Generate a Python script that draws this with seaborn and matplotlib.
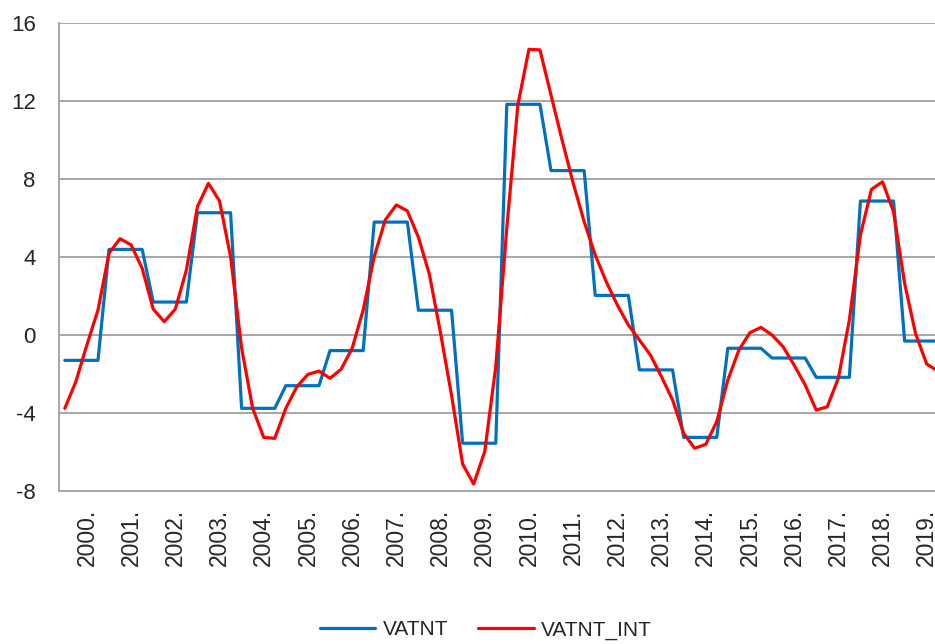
import numpy as np
import pandas as pd
import matplotlib.pyplot as plt
import seaborn as sns

# annual values (repeated over the four quarters) and the quarterly interpolation
years = [f"{y}." for y in range(2000, 2020)]
vatnt_annual = [-1.3, 4.39, 1.69, 6.27, -3.76, -2.6, -0.8, 5.79, 1.27, -5.55,
                11.83, 8.43, 2.03, -1.79, -5.25, -0.68, -1.18, -2.17, 6.87, -0.31]
vatnt_int = [-3.76, -2.39, -0.5, 1.28,
             4.2, 4.94, 4.62, 3.42,
             1.33, 0.68, 1.33, 3.33,
             6.58, 7.78, 6.87, 4.02,
             -0.68, -3.76, -5.25, -5.3,
             -3.76, -2.65, -2.02, -1.85,
             -2.22, -1.76, -0.68, 1.28,
             4.02, 5.9, 6.67, 6.36,
             5.01, 3.1, 0.1, -3.1,
             -6.62, -7.64, -5.98, -1.62,
             5.5, 11.8, 14.65, 14.62,
             12.3, 10.0, 7.8, 5.81,
             4.1, 2.73, 1.54, 0.51,
             -0.26, -1.03, -2.14, -3.33,
             -5.04, -5.81, -5.61, -4.44,
             -2.31, -0.77, 0.12, 0.39,
             0.0, -0.6, -1.54, -2.56,
             -3.85, -3.68, -2.22, 0.77,
             5.13, 7.47, 7.86, 6.32,
             2.65, 0.05, -1.49, -1.85]

quarters = np.arange(len(vatnt_int))
vatnt = np.repeat(vatnt_annual, 4)

df = pd.DataFrame({
    "q": np.concatenate([quarters, quarters]),
    "value": np.concatenate([vatnt, vatnt_int]),
    "series": ["VATNT"] * len(quarters) + ["VATNT_INT"] * len(quarters),
})

sns.set_style("white")
plt.rcParams['font.family'] = ['Liberation Sans', 'DejaVu Sans']
plt.rcParams['axes.unicode_minus'] = False

grey = '#a6a6a6'
fig = plt.figure(figsize=(9.35, 6.44), dpi=100)
ax = fig.add_axes([59.3 / 935, 1 - 491 / 644, 1 - 59.3 / 935, 468 / 644])

sns.lineplot(data=df, x="q", y="value", hue="series",
             palette=["#0070C0", "#FF0000"], linewidth=2.3, ax=ax)

ax.set_xlabel("")
ax.set_ylabel("")

ax.set_yticks(range(-8, 17, 4))
ax.yaxis.grid(True, color=grey, lw=1.4)
ax.set_axisbelow(True)
ax.tick_params(axis='y', length=0, pad=17, labelsize=16)

ax.set_xticks(np.arange(3.5, 79, 4))
ax.set_xticklabels([])
ax.set_xticks(np.arange(2, 80, 4), minor=True)
ax.set_xticklabels(years, minor=True, rotation=90)
ax.tick_params(axis='x', which='major', direction='in', length=5.5, width=1.4, color=grey)
ax.tick_params(axis='x', which='minor', length=0, pad=13, labelsize=16.5)

# limits after the ticks, so the ticks do not widen the view
ax.set_xlim(-0.5, 78.75)
ax.set_ylim(-8, 16)

for side in ['top', 'right']:
    ax.spines[side].set_visible(False)
for side in ['left', 'bottom']:
    ax.spines[side].set_color(grey)
    ax.spines[side].set_linewidth(1.4)

handles, labels = ax.get_legend_handles_labels()
ax.get_legend().remove()
fig.legend(handles, labels, loc='center', bbox_to_anchor=(486 / 935, 1 - 630 / 644),
           ncol=2, frameon=False, fontsize=15, handlelength=2.65,
           handletextpad=0.35, columnspacing=1.45)

fig.savefig("out.png", dpi=100)
